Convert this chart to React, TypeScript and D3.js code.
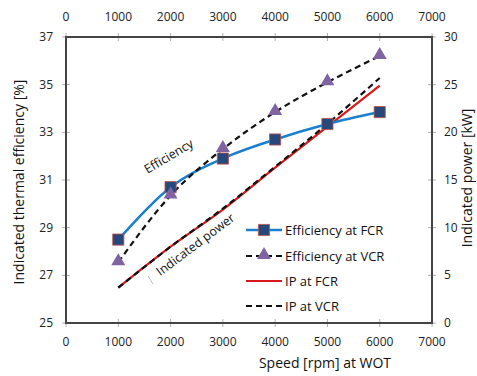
import React, { useEffect, useRef } from 'react';
import * as d3 from 'd3';

const speeds = [1000, 2000, 3000, 4000, 5000, 6000];
const effFCR = [28.5, 30.7, 31.9, 32.7, 33.35, 33.85];
const effVCR = [27.55, 30.35, 32.3, 33.85, 35.1, 36.2];
const ipFCR = [3.7, 8.0, 11.9, 16.3, 20.6, 24.9];
const ipVCR = [3.7, 8.0, 12.0, 16.4, 20.9, 25.7];
const xTicks = [0, 1000, 2000, 3000, 4000, 5000, 6000, 7000];
const effTicks = [25, 27, 29, 31, 33, 35, 37];
const ipTicks = [0, 5, 10, 15, 20, 25, 30];
const legendLabels = ['Efficiency at FCR', 'Efficiency at VCR', 'IP at FCR', 'IP at VCR'];

const W = 477;
const H = 376;
const FONT = '"Open Sans", sans-serif';

export default function App() {
  const svgRef = useRef<SVGSVGElement>(null);

  useEffect(() => {
    if (!svgRef.current) return;
    const svg = d3.select(svgRef.current);
    svg.selectAll('*').remove();

    const left = 66, right = 432, top = 37, bottom = 323;

    const x = d3.scaleLinear().domain([0, 7000]).range([left, right]);
    const yL = d3.scaleLinear().domain([25, 37]).range([bottom, top]);
    const yR = d3.scaleLinear().domain([0, 30]).range([bottom, top]);

    // ticks
    const tickColor = '#b0b0b0';
    xTicks.forEach(t => {
      [top, bottom].forEach(yy => {
        svg.append('line')
          .attr('x1', x(t)).attr('x2', x(t))
          .attr('y1', yy - 4).attr('y2', yy + 4)
          .attr('stroke', tickColor).attr('stroke-width', 1);
      });
      svg.append('text').attr('x', x(t)).attr('y', 21)
        .attr('text-anchor', 'middle').attr('font-size', 12).attr('font-family', FONT)
        .attr('fill', '#222').text(t);
      svg.append('text').attr('x', x(t)).attr('y', 346)
        .attr('text-anchor', 'middle').attr('font-size', 12).attr('font-family', FONT)
        .attr('fill', '#222').text(t);
    });
    effTicks.forEach(t => {
      svg.append('line')
        .attr('x1', left - 4).attr('x2', left + 4)
        .attr('y1', yL(t)).attr('y2', yL(t))
        .attr('stroke', tickColor).attr('stroke-width', 1);
      svg.append('text').attr('x', 53).attr('y', yL(t) + 4)
        .attr('text-anchor', 'end').attr('font-size', 12).attr('font-family', FONT)
        .attr('fill', '#222').text(t);
    });
    ipTicks.forEach(t => {
      svg.append('line')
        .attr('x1', right - 4).attr('x2', right + 4)
        .attr('y1', yR(t)).attr('y2', yR(t))
        .attr('stroke', tickColor).attr('stroke-width', 1);
      svg.append('text').attr('x', 444).attr('y', yR(t) + 4)
        .attr('text-anchor', 'start').attr('font-size', 12).attr('font-family', FONT)
        .attr('fill', '#222').text(t);
    });

    // frame
    svg.append('rect')
      .attr('x', left).attr('y', top)
      .attr('width', right - left).attr('height', bottom - top)
      .attr('fill', 'none').attr('stroke', '#444').attr('stroke-width', 2);

    // axis titles
    svg.append('text')
      .attr('transform', `translate(24,${(top + bottom) / 2 + 2}) rotate(-90)`)
      .attr('text-anchor', 'middle').attr('font-size', 14).attr('font-family', FONT)
      .attr('fill', '#111').text('Indicated thermal efficiency [%]');
    svg.append('text')
      .attr('transform', `translate(472,${(top + bottom) / 2 - 2}) rotate(-90)`)
      .attr('text-anchor', 'middle').attr('font-size', 14).attr('font-family', FONT)
      .attr('fill', '#111').text('Indicated power [kW]');
    svg.append('text')
      .attr('x', 325).attr('y', 368)
      .attr('text-anchor', 'middle').attr('font-size', 14).attr('font-family', FONT)
      .attr('fill', '#111').text('Speed [rpm] at WOT');

    const smoothL = d3.line<number>()
      .x((_, i) => x(speeds[i]))
      .y(d => yL(d))
      .curve(d3.curveMonotoneX);
    const smoothR = d3.line<number>()
      .x((_, i) => x(speeds[i]))
      .y(d => yR(d))
      .curve(d3.curveMonotoneX);

    // IP lines
    svg.append('path').attr('d', smoothR(ipFCR)!)
      .attr('fill', 'none').attr('stroke', '#d7191c').attr('stroke-width', 2.2);
    svg.append('path').attr('d', smoothR(ipVCR)!)
      .attr('fill', 'none').attr('stroke', '#111').attr('stroke-width', 2.2)
      .attr('stroke-dasharray', '6,4');

    // efficiency lines
    svg.append('path').attr('d', smoothL(effFCR)!)
      .attr('fill', 'none').attr('stroke', '#1b7fcf').attr('stroke-width', 2.5);
    svg.append('path').attr('d', smoothL(effVCR)!)
      .attr('fill', 'none').attr('stroke', '#111').attr('stroke-width', 2.2)
      .attr('stroke-dasharray', '6,4');

    const square = d3.symbol().type(d3.symbolSquare).size(125);
    const tri = d3.symbol().type(d3.symbolTriangle).size(85);

    effFCR.forEach((v, i) => {
      svg.append('path').attr('d', square()!)
        .attr('transform', `translate(${x(speeds[i])},${yL(v)})`)
        .attr('fill', '#27497a').attr('stroke', '#c0504d').attr('stroke-width', 0.8);
    });
    effVCR.forEach((v, i) => {
      svg.append('path').attr('d', tri()!)
        .attr('transform', `translate(${x(speeds[i])},${yL(v) - 1})`)
        .attr('fill', '#8064a2');
    });

    // annotations
    svg.append('text')
      .attr('transform', 'translate(171,160) rotate(-31)')
      .attr('text-anchor', 'middle').attr('font-size', 12.5).attr('font-family', FONT)
      .attr('fill', '#111').text('Efficiency');
    svg.append('text')
      .attr('transform', 'translate(198,248) rotate(-37)')
      .attr('text-anchor', 'middle').attr('font-size', 12.5).attr('font-family', FONT)
      .attr('fill', '#111').text('Indicated power');
    svg.append('line')
      .attr('x1', 148).attr('y1', 276).attr('x2', 153).attr('y2', 284)
      .attr('stroke', '#aaa').attr('stroke-width', 0.8);

    // legend
    const lx1 = 246, lx2 = 282;
    const rows = [230, 256, 281, 306];
    legendLabels.forEach((lab, i) => {
      const y = rows[i];
      const g = svg.append('g');
      const line = g.append('line').attr('x1', lx1).attr('x2', lx2).attr('y1', y).attr('y2', y);
      if (i === 0) line.attr('stroke', '#1b7fcf').attr('stroke-width', 2.5);
      if (i === 1) line.attr('stroke', '#111').attr('stroke-width', 2.2).attr('stroke-dasharray', '6,4');
      if (i === 2) line.attr('stroke', '#d7191c').attr('stroke-width', 2.2);
      if (i === 3) line.attr('stroke', '#111').attr('stroke-width', 2.2).attr('stroke-dasharray', '6,4');
      if (i === 0) {
        g.append('path').attr('d', square()!)
          .attr('transform', `translate(${(lx1 + lx2) / 2},${y})`)
          .attr('fill', '#27497a').attr('stroke', '#c0504d').attr('stroke-width', 0.8);
      }
      if (i === 1) {
        g.append('path').attr('d', tri()!)
          .attr('transform', `translate(${(lx1 + lx2) / 2},${y - 1})`)
          .attr('fill', '#8064a2');
      }
      g.append('text').attr('x', 285).attr('y', y + 5)
        .attr('font-size', 13).attr('font-family', FONT).attr('fill', '#111').text(lab);
    });
  }, []);

  return (
    <svg
      ref={svgRef}
      width={W}
      height={H}
      style={{ position: 'absolute', left: 0, top: 0, background: '#fff' }}
    />
  );
}
